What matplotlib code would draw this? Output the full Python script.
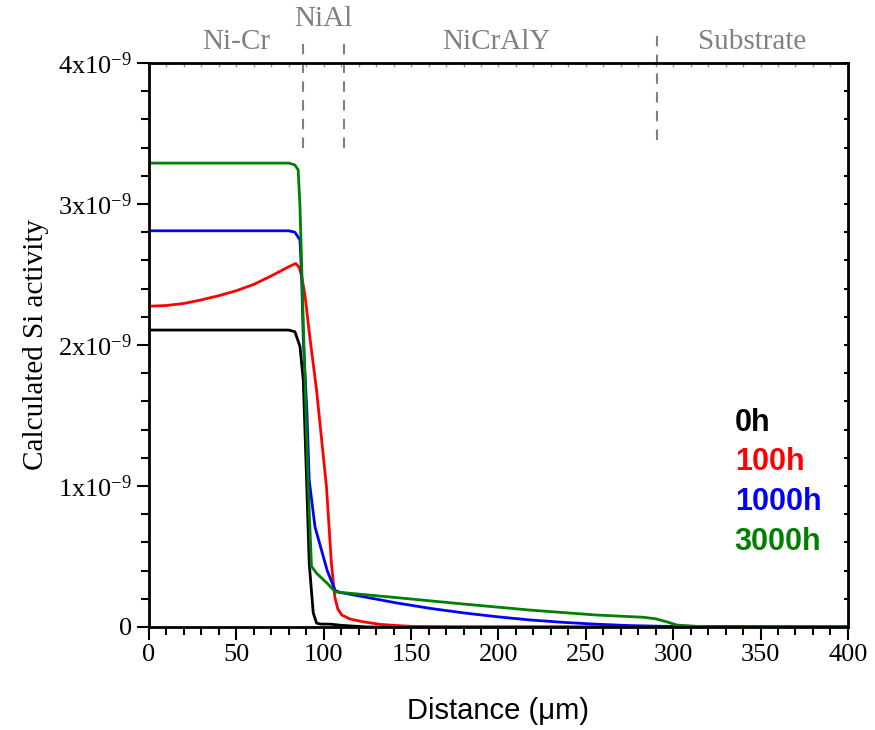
import matplotlib
matplotlib.use('Agg')
import matplotlib.pyplot as plt
from matplotlib.ticker import MultipleLocator
import numpy as np

# distance (um) and Si activity (x1e-9)
x_0h = [0, 20, 40, 60, 80, 83.5, 86.4, 88.3, 90.2, 91.7, 94, 95.9, 98, 104, 110, 115, 125, 400]
y_0h = [2.106, 2.106, 2.106, 2.106, 2.106, 2.094, 1.99, 1.75, 1.04, 0.45, 0.10, 0.028, 0.021, 0.02, 0.012, 0.008, 0.0, 0.0]

x_100h = [0, 10, 20, 30, 40, 50, 60, 70, 80, 84, 86, 87.5, 89.3, 92.1, 95.9, 101.6, 104.4, 106.4,
          108, 110.3, 115, 122, 132, 142, 151, 175, 400]
y_100h = [2.275, 2.28, 2.295, 2.32, 2.35, 2.385, 2.43, 2.49, 2.555, 2.578, 2.55, 2.48, 2.35, 2.05, 1.68, 0.99, 0.45, 0.21,
          0.13, 0.085, 0.057, 0.038, 0.019, 0.01, 0.004, 0.0, 0.0]

x_1000h = [0, 20, 40, 60, 80, 83.5, 86.4, 87.3, 88.3, 90.4, 91.7, 95, 102, 106.5, 109, 122.5, 142, 161,
           180, 199, 218, 237, 256, 275, 294, 350, 400]
y_1000h = [2.81, 2.81, 2.81, 2.81, 2.81, 2.80, 2.745, 2.51, 2.04, 1.52, 1.04, 0.71, 0.40, 0.26, 0.246, 0.215, 0.17, 0.132,
           0.10, 0.073, 0.05, 0.033, 0.02, 0.01, 0.005, 0.001, 0.0]

x_3000h = [0, 20, 40, 60, 80, 83.5, 85.4, 86.4, 87.3, 88.3, 91, 93, 96, 102, 106.5, 109, 142, 180,
           218, 256, 283, 290, 296, 302, 313, 330, 400]
y_3000h = [3.29, 3.29, 3.29, 3.29, 3.29, 3.277, 3.24, 2.98, 2.60, 2.15, 1.04, 0.43, 0.38, 0.31, 0.25, 0.246, 0.208, 0.163,
           0.12, 0.085, 0.069, 0.058, 0.038, 0.014, 0.005, 0.0, 0.0]

series = [('0h', x_0h, y_0h, '#000000'),
          ('100h', x_100h, y_100h, '#ff0000'),
          ('1000h', x_1000h, y_1000h, '#0000ff'),
          ('3000h', x_3000h, y_3000h, '#008000')]

layer_names = ['Ni-Cr', 'NiAl', 'NiCrAlY', 'Substrate']
layer_name_x = [49.8, 99.6, 199, 345]
layer_name_y = [4.15, 4.31, 4.15, 4.15]
boundary_x = [88, 111.5, 291]
boundary_top = [4.135, 4.135, 4.234]
boundary_bottom = [3.40, 3.40, 3.454]

plt.rcParams['mathtext.fontset'] = 'custom'
plt.rcParams['mathtext.rm'] = 'Liberation Serif'
plt.rcParams['mathtext.default'] = 'rm'

fig = plt.figure(figsize=(8.75, 7.3), dpi=100)
ax = fig.add_axes([0.1703, 0.1411, 0.7987, 0.7726])

for name, xs, ys, c in series:
    ax.plot(xs, np.array(ys) * 1e-9, color=c, lw=2)

ax.set_xlim(0, 400)
ax.set_ylim(0, 4e-9)

ax.xaxis.set_major_locator(MultipleLocator(50))
ax.xaxis.set_minor_locator(MultipleLocator(10))
ax.yaxis.set_minor_locator(MultipleLocator(0.2e-9))
ax.set_yticks([0, 1e-9, 2e-9, 3e-9, 4e-9])
ax.set_yticklabels(['0', '1x10$^{-9}$', '2x10$^{-9}$', '3x10$^{-9}$', '4x10$^{-9}$'])

ax.tick_params(which='major', direction='out', length=9, width=1.5, labelsize=19)
ax.tick_params(which='minor', direction='out', length=6, width=1.5)
for lab in ax.get_xticklabels() + ax.get_yticklabels():
    lab.set_family('Liberation Serif')
for sp in ax.spines.values():
    sp.set_linewidth(2)

# little inward ticks on top / right
top = ax.secondary_xaxis('top')
top.xaxis.set_major_locator(MultipleLocator(10))
top.tick_params(direction='in', length=3, width=1, labeltop=False, colors='#999999')
right = ax.secondary_yaxis('right')
right.yaxis.set_major_locator(MultipleLocator(0.2e-9))
right.tick_params(direction='in', length=3, width=1.5, labelright=False)

ax.set_xlabel('Distance (μm)', family='Liberation Sans', fontsize=21, labelpad=22)
ax.set_ylabel('Calculated Si activity', family='Liberation Serif', fontsize=21, labelpad=6)

for bx, b0, b1 in zip(boundary_x, boundary_bottom, boundary_top):
    ax.plot([bx, bx], [b0 * 1e-9, b1 * 1e-9], color='#808080', lw=1.5,
            ls=(0, (5, 4)), clip_on=False)
for t, tx, ty in zip(layer_names, layer_name_x, layer_name_y):
    ax.text(tx, ty * 1e-9, t, ha='center', va='center', color='#808080',
            family='Liberation Serif', fontsize=21)

leg_y = [0.362, 0.293, 0.222, 0.151]
for (name, xs, ys, c), ly in zip(series, leg_y):
    ax.text(0.838, ly, name, transform=ax.transAxes, color=c, fontsize=22,
            fontweight='bold', family='Liberation Sans', va='center', ha='left')

fig.savefig('out.png', dpi=100)
